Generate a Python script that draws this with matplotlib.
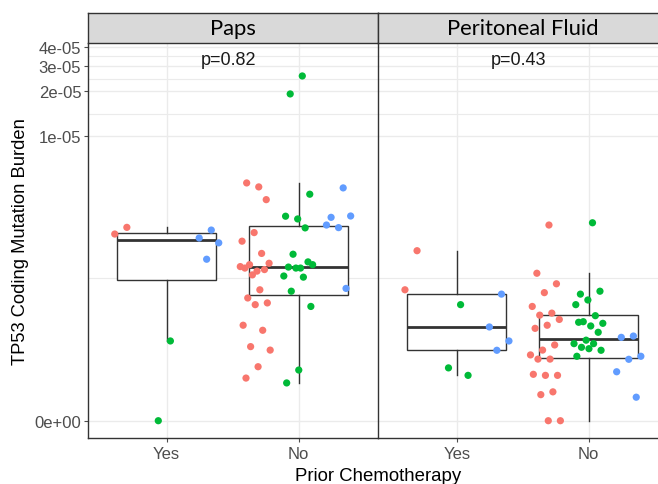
import numpy as np
import matplotlib
matplotlib.use('Agg')
import matplotlib.pyplot as plt
from matplotlib import cbook

plt.rcParams['font.family'] = 'Liberation Sans'

# valores em unidades de 1e-6
scale = 1e-6
categorias = ['Yes', 'No']
paineis = ['Paps', 'Peritoneal Fluid']
p_valores = ['p=0.82', 'p=0.43']

paps_yes_red = [2.31, 2.07]
paps_yes_green = [0.295, 0.0]
paps_yes_blue = [2.21, 1.94, 1.79, 1.36]

paps_no_red = [4.44, 4.73, 3.62, 2.12, 1.84, 1.50, 1.24, 1.27, 1.11, 1.17, 1.14, 1.04,
               1.20, 0.80, 0.69, 0.63, 0.61, 0.41, 0.37, 0.26, 0.24, 0.158, 0.113]
paps_no_green = [25.5, 19.25, 3.95, 2.65, 2.77, 2.29, 1.48, 1.24, 1.17, 1.19, 1.30, 1.17,
                 1.02, 1.00, 0.78, 0.59, 0.144, 0.096]
paps_no_blue = [4.37, 2.72, 2.78, 2.30, 2.40, 0.82]

pf_yes_red = [1.57, 0.80]
pf_yes_green = [0.61, 0.153, 0.123]
pf_yes_blue = [0.74, 0.396, 0.295, 0.239]

pf_no_red = [2.40, 1.07, 0.89, 0.76, 0.59, 0.52, 0.50, 0.46, 0.41, 0.385, 0.27, 0.24,
             0.214, 0.193, 0.193, 0.123, 0.123, 0.127, 0.068, 0.060, 0.0, 0.0]
pf_no_green = [2.49, 0.74, 0.78, 0.665, 0.61, 0.495, 0.44, 0.426, 0.404, 0.435, 0.355,
               0.30, 0.278, 0.278, 0.256, 0.239, 0.248, 0.207]
pf_no_blue = [0.328, 0.319, 0.207, 0.192, 0.137, 0.053]

dados = {
    'Paps': {'Yes': [paps_yes_red, paps_yes_green, paps_yes_blue],
             'No': [paps_no_red, paps_no_green, paps_no_blue]},
    'Peritoneal Fluid': {'Yes': [pf_yes_red, pf_yes_green, pf_yes_blue],
                         'No': [pf_no_red, pf_no_green, pf_no_blue]},
}

cores = ['#F8766D', '#00BA38', '#619CFF']
desloc = [-0.33, 0.0, 0.31]
yticks = [0, 1e-5, 2e-5, 3e-5, 4e-5]
ylabels = ['0e+00', '1e-05', '2e-05', '3e-05', '4e-05']

# escala log com deslocamento
c = 1.2e-7
def fwd(v):
    return np.log(np.maximum(np.asarray(v, dtype=float) + c, 1e-15))
def inv(t):
    return np.exp(np.asarray(t, dtype=float)) - c

W, H = 658, 485
fig = plt.figure(figsize=(W / 100, H / 100), dpi=100)

px_left, px_div, px_top, px_bot = 87.5, 377.7, 43.5, 439.0
largura = px_div - px_left
ylim = (-2.83e-8, 4.3e-5)

mids = [float(inv((fwd(a) + fwd(b)) / 2)) for a, b in zip(yticks[:-1], yticks[1:])]

for k, nome in enumerate(paineis):
    x0 = px_left + k * largura
    ax = fig.add_axes([x0 / W, 1 - px_bot / H, largura / W, (px_bot - px_top) / H])
    ax.set_yscale('function', functions=(fwd, inv))
    ax.set_axisbelow(True)

    for i, cat in enumerate(categorias):
        pos = i + 1
        grupos = dados[nome][cat]
        todos = np.concatenate([np.array(g) * scale for g in grupos])
        st = cbook.boxplot_stats(fwd(todos), whis=1.5)[0]
        for key in ['med', 'q1', 'q3', 'whislo', 'whishi', 'mean']:
            st[key] = float(inv(st[key]))
        st['fliers'] = []
        ax.bxp([st], positions=[pos], widths=0.75, showfliers=False, showcaps=False,
               patch_artist=True, manage_ticks=False,
               boxprops=dict(facecolor='white', edgecolor='#333333', lw=1.0),
               whiskerprops=dict(color='#333333', lw=1.0),
               medianprops=dict(color='#333333', lw=2.0))
        for g, vals in enumerate(grupos):
            n = len(vals)
            jit = [(((j + 1) * 0.618034) % 1 * 2 - 1) * 0.12 for j in range(n)]
            xs = [pos + desloc[g] + jj for jj in jit]
            ys = np.array(vals) * scale
            ax.scatter(xs, ys, s=27, color=cores[g], edgecolors='none', zorder=3)

    ax.set_ylim(*ylim)
    ax.set_xlim(0.4, 2.6)
    ax.set_yticks(yticks)
    ax.set_yticklabels(ylabels)
    ax.set_yticks(mids, minor=True)
    ax.set_xticks([1, 2])
    ax.set_xticklabels(categorias)
    ax.grid(True, which='major', color='#EBEBEB', lw=1.0)
    ax.grid(True, which='minor', axis='y', color='#EBEBEB', lw=0.8)
    ax.tick_params(which='minor', length=0)
    ax.tick_params(axis='both', which='major', colors='#4D4D4D', labelcolor='#4D4D4D',
                   length=3, width=0.8, labelsize=12)
    ax.tick_params(axis='x', pad=3)
    ax.tick_params(axis='y', pad=1.5)
    if k > 0:
        ax.tick_params(axis='y', which='both', left=False, labelleft=False)

    for s in ['top', 'right']:
        ax.spines[s].set_visible(False)
    for s in ['left', 'bottom']:
        ax.spines[s].set_color('#333333')
        ax.spines[s].set_linewidth(1.0)

    ax.text(1.47, 0.958, p_valores[k], transform=ax.get_xaxis_transform(), ha='center',
            va='center', fontsize=13, color='#1A1A1A')

    # faixa do titulo do painel
    sx = fig.add_axes([x0 / W, 1 - px_top / H, largura / W, (px_top - 14) / H])
    sx.set_facecolor('#D9D9D9')
    sx.set_xticks([])
    sx.set_yticks([])
    for s in sx.spines.values():
        s.set_color('#333333')
        s.set_linewidth(1.0)
    sx.text(0.5, 0.5, nome, ha='center', va='center', fontsize=15.8, color='black',
            family='Lato', transform=sx.transAxes)

fig.text(21 / W, 1 - 241.5 / H, 'TP53 Coding Mutation Burden', rotation=90, ha='center',
         va='center', fontsize=13.2, color='black')
fig.text(px_div / W, 3.5 / H, 'Prior Chemotherapy', ha='center', va='baseline',
         fontsize=13.4, color='black')

fig.savefig('out.png', dpi=100)
